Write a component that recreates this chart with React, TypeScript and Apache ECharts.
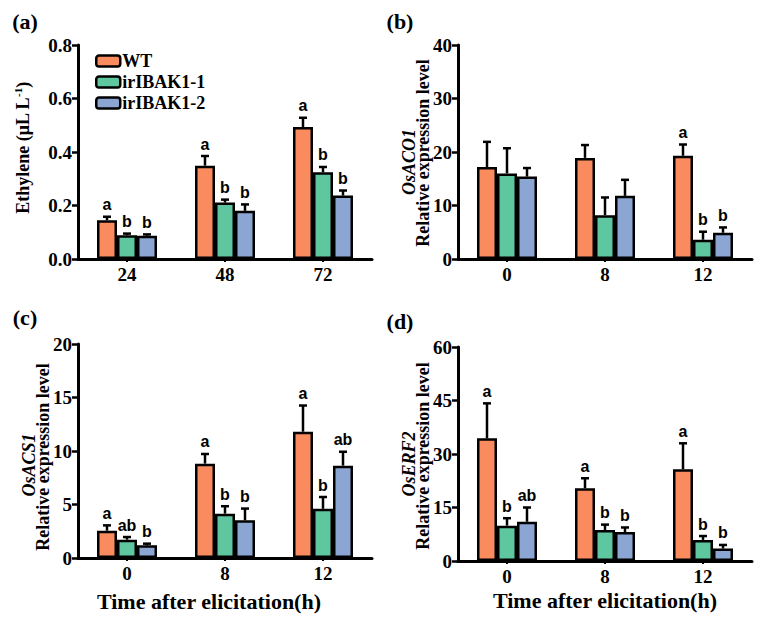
import React, { useEffect, useRef } from 'react';
import * as echarts from 'echarts';

const groupNames = ['WT', 'irIBAK1-1', 'irIBAK1-2'];
const groupColors = ['#F98B5E', '#5EC7A0', '#8CA6D3'];

const catsA = ['24', '48', '72'];
const catsTime = ['0', '8', '12'];

// (a) Ethylene
const aWT = [0.145, 0.349, 0.493];
const aWTse = [0.013, 0.036, 0.035];
const aL1 = [0.089, 0.211, 0.324];
const aL1se = [0.006, 0.011, 0.02];
const aL2 = [0.087, 0.18, 0.237];
const aL2se = [0.005, 0.024, 0.019];
const aLetWT = ['a', 'a', 'a'];
const aLetL1 = ['b', 'b', 'b'];
const aLetL2 = ['b', 'b', 'b'];

// (b) OsACO1
const bWT = [17.2, 18.9, 19.3];
const bWTse = [4.7, 2.4, 2.1];
const bL1 = [16.0, 8.2, 3.6];
const bL1se = [4.7, 3.3, 1.5];
const bL2 = [15.4, 11.8, 4.9];
const bL2se = [1.6, 3.0, 1.0];
const bLetWT = ['', '', 'a'];
const bLetL1 = ['', '', 'b'];
const bLetL2 = ['', '', 'b'];

// (c) OsACS1
const cWT = [2.55, 8.82, 11.8];
const cWTse = [0.5, 0.9, 2.45];
const cL1 = [1.71, 4.14, 4.6];
const cL1se = [0.25, 0.7, 1.1];
const cL2 = [1.18, 3.52, 8.63];
const cL2se = [0.16, 1.1, 1.3];
const cLetWT = ['a', 'a', 'a'];
const cLetL1 = ['ab', 'b', 'b'];
const cLetL2 = ['b', 'b', 'ab'];

// (d) OsERF2
const dWT = [34.4, 20.4, 25.7];
const dWTse = [9.8, 2.8, 7.3];
const dL1 = [9.9, 8.7, 5.9];
const dL1se = [2.1, 1.5, 1.1];
const dL2 = [11.0, 8.1, 3.5];
const dL2se = [4.0, 1.3, 1.0];
const dLetWT = ['a', 'a', 'a'];
const dLetL1 = ['b', 'b', 'b'];
const dLetL2 = ['ab', 'b', 'b'];

const yMax = [0.8, 40, 20, 60];
const yInterval = [0.2, 10, 5, 15];

const SERIF = '"Liberation Serif", "Times New Roman", serif';
const SANS = '"Liberation Sans", Arial, sans-serif';

const panels = [
  { cats: catsA, means: [aWT, aL1, aL2], ses: [aWTse, aL1se, aL2se], letters: [aLetWT, aLetL1, aLetL2] },
  { cats: catsTime, means: [bWT, bL1, bL2], ses: [bWTse, bL1se, bL2se], letters: [bLetWT, bLetL1, bLetL2] },
  { cats: catsTime, means: [cWT, cL1, cL2], ses: [cWTse, cL1se, cL2se], letters: [cLetWT, cLetL1, cLetL2] },
  { cats: catsTime, means: [dWT, dL1, dL2], ses: [dWTse, dL1se, dL2se], letters: [dLetWT, dLetL1, dLetL2] },
];

const gridBoxes = [
  { left: 78, top: 45, width: 294, height: 214 },
  { left: 458, top: 45, width: 294, height: 214 },
  { left: 78, top: 344, width: 294, height: 214 },
  { left: 458, top: 347, width: 294, height: 214 },
];

const BAR_W = 20;

function errSeries(gi: number, means: number[], ses: number[], letters: string[], offset: number) {
  return {
    type: 'custom',
    xAxisIndex: gi,
    yAxisIndex: gi,
    z: 5,
    silent: true,
    data: means.map((m, i) => [i, m, m + ses[i]]),
    renderItem: (params: any, api: any) => {
      const i = api.value(0);
      const p0 = api.coord([i, api.value(1)]);
      const p1 = api.coord([i, api.value(2)]);
      const x = p0[0] + offset;
      const letter = letters[params.dataIndex];
      const children: any[] = [
        { type: 'line', shape: { x1: x, y1: p0[1], x2: x, y2: p1[1] }, style: { stroke: '#000', lineWidth: 2.5 } },
        { type: 'line', shape: { x1: x - 4, y1: p1[1], x2: x + 4, y2: p1[1] }, style: { stroke: '#000', lineWidth: 2.5 } },
      ];
      if (letter) {
        children.push({
          type: 'text',
          x,
          y: p1[1] - 4,
          style: { text: letter, align: 'center', verticalAlign: 'bottom', fontSize: 16, fontWeight: 'bold', fontFamily: SANS, fill: '#000' },
        });
      }
      return { type: 'group', children };
    },
  };
}

export default function App() {
  const ref = useRef<HTMLDivElement>(null);
  useEffect(() => {
    if (!ref.current) return;
    const chart = echarts.init(ref.current, null, { renderer: 'svg' });
    const series: any[] = [];
    panels.forEach((p, gi) => {
      for (let k = 0; k < 3; k++) {
        series.push({
          type: 'bar',
          name: groupNames[k],
          xAxisIndex: gi,
          yAxisIndex: gi,
          data: p.means[k],
          barWidth: BAR_W,
          barGap: '0%',
          itemStyle: { color: groupColors[k], borderColor: '#000', borderWidth: 2.5 },
          z: 2,
        });
      }
      for (let k = 0; k < 3; k++) {
        series.push(errSeries(gi, p.means[k], p.ses[k], p.letters[k], (k - 1) * BAR_W));
      }
    });

    const axisLine = { show: true, lineStyle: { color: '#000', width: 3 } };
    const labelStyle = { color: '#000', fontFamily: SERIF, fontWeight: 'bold', fontSize: 19 };

    const xAxis = panels.map((p, gi) => ({
      type: 'category',
      gridIndex: gi,
      data: p.cats,
      axisLine,
      axisTick: { show: true, alignWithLabel: true, length: 3, lineStyle: { color: '#000', width: 2 } },
      axisLabel: { ...labelStyle, margin: 6 },
      splitLine: { show: false },
    }));
    const yAxis = panels.map((p, gi) => ({
      type: 'value',
      gridIndex: gi,
      min: 0,
      max: yMax[gi],
      interval: yInterval[gi],
      axisLine,
      axisTick: { show: true, length: 6, lineStyle: { color: '#000', width: 2.5 } },
      axisLabel: { ...labelStyle, margin: 6, formatter: (v: number) => (gi === 0 ? v.toFixed(1) : String(v)) },
      splitLine: { show: false },
    }));

    const txt = (text: string, x: number, y: number, size: number, extra: any = {}) => ({
      type: 'text',
      x,
      y,
      style: { text, fontSize: size, fontWeight: 'bold', fontFamily: SERIF, fill: '#000', align: 'center', verticalAlign: 'middle', ...extra },
    });
    const rot = (text: string, x: number, y: number, size: number, extra: any = {}) => ({
      ...txt(text, x, y, size, extra),
      rotation: Math.PI / 2,
    });

    const graphic: any[] = [
      txt('(a)', 25, 21, 22),
      txt('(b)', 400, 21, 22),
      txt('(c)', 25, 317, 22),
      txt('(d)', 400, 321, 22),
      {
        type: 'text',
        x: 22,
        y: 148,
        rotation: Math.PI / 2,
        style: {
          text: '{n|Ethylene (μL L}{s|-1}{n|)}',
          align: 'center',
          verticalAlign: 'middle',
          fill: '#000',
          rich: {
            n: { fontSize: 18, fontWeight: 'bold', fontFamily: SERIF, fill: '#000', lineHeight: 20, verticalAlign: 'bottom' },
            s: { fontSize: 11, fontWeight: 'bold', fontFamily: SERIF, fill: '#000', lineHeight: 20, verticalAlign: 'top' },
          },
        },
      },
      rot('OsACO1', 409, 162, 18, { fontStyle: 'italic' }),
      rot('Relative expression level', 423, 153, 18),
      rot('OsACS1', 29, 465, 18, { fontStyle: 'italic' }),
      rot('Relative expression level', 43, 457, 18),
      rot('OsERF2', 409, 464, 18, { fontStyle: 'italic' }),
      rot('Relative expression level', 423, 456, 18),
      txt('Time after elicitation(h)', 209, 601, 22),
      txt('Time after elicitation(h)', 605, 600, 22),
    ];

    chart.setOption({
      animation: false,
      backgroundColor: '#fff',
      grid: gridBoxes.map((g) => ({ ...g })),
      xAxis,
      yAxis,
      legend: {
        data: groupNames,
        orient: 'vertical',
        left: 90,
        top: 47,
        itemWidth: 24,
        itemHeight: 11,
        itemGap: 3,
        icon: 'roundRect',
        itemStyle: { borderColor: '#000', borderWidth: 2.5 },
        textStyle: { color: '#000', fontFamily: SERIF, fontWeight: 'bold', fontSize: 18, padding: [0, 0, 0, -3] },
        selectedMode: false,
      },
      graphic,
      series,
    });
    return () => chart.dispose();
  }, []);
  return <div ref={ref} style={{ position: 'absolute', left: 0, top: 0, width: 760, height: 618 }} />;
}
